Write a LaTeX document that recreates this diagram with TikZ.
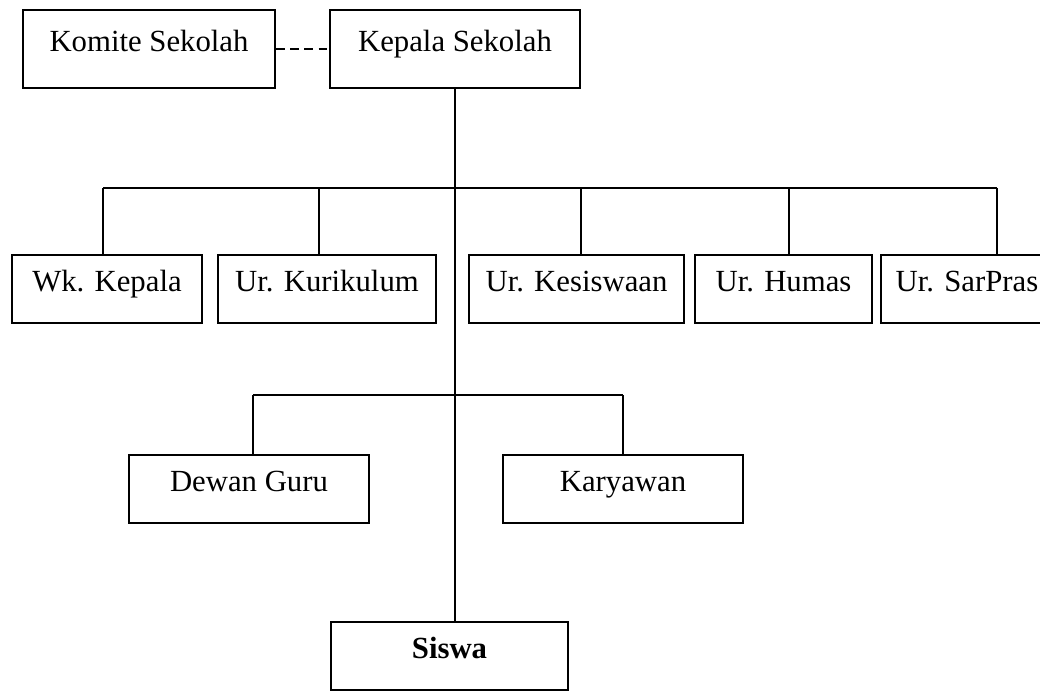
\documentclass[tikz,border=0pt]{standalone}
\usepackage{fontspec}
\setmainfont{Liberation Serif}
\usepackage{tikz}

\begin{document}
\begin{tikzpicture}[x=0.02cm,y=-0.02cm,
  unit/.style={draw, line width=1.6pt, rectangle, inner sep=0pt,
    text height=0.7em, text depth=0.45em, font=\fontsize{17.5}{20}\selectfont},
  link/.style={line width=1.4pt}]
\clip (0,0) rectangle (1040,692);

\node[unit, minimum width=5.04cm, minimum height=1.56cm] (komite) at (149,49) {Komite Sekolah};
\node[unit, minimum width=5.0cm, minimum height=1.56cm] (kepala) at (455,49) {Kepala Sekolah};

\node[unit, minimum width=3.8cm, minimum height=1.36cm] (wk) at (107,289) {Wk. Kepala};
\node[unit, minimum width=4.36cm, minimum height=1.36cm] (kur) at (327,289) {Ur. Kurikulum};
\node[unit, minimum width=4.3cm, minimum height=1.36cm] (kes) at (576.5,289) {Ur. Kesiswaan};
\node[unit, minimum width=3.54cm, minimum height=1.36cm] (hum) at (783.5,289) {Ur. Humas};
\node[unit, minimum width=3.44cm, minimum height=1.36cm] (sar) at (967,289) {Ur. SarPras};

\node[unit, minimum width=4.8cm, minimum height=1.36cm] (dewan) at (249,489) {Dewan Guru};
\node[unit, minimum width=4.8cm, minimum height=1.36cm] (kary) at (623,489) {Karyawan};

\node[unit, minimum width=4.74cm, minimum height=1.36cm] (siswa) at (449.5,656) {\textbf{Siswa}};

\draw[link, dash pattern=on 5pt off 3pt] (komite) -- (kepala);
\draw[link] (kepala.south) -- (kepala.south |- siswa.north);

\coordinate (busL) at (103,188);
\coordinate (busR) at (997,188);
\draw[link] (busL) -- (busR);
\foreach \n/\x in {wk/103, kur/319, kes/581, hum/789, sar/997} {
  \coordinate (d\n) at (\x,188);
  \draw[link] (d\n) -- (d\n |- \n.north);
}

\coordinate (staffL) at (253,395);
\coordinate (staffR) at (623,395);
\draw[link] (staffL) -- (staffR);
\draw[link] (staffL) -- (staffL |- dewan.north);
\draw[link] (staffR) -- (kary.north);
\end{tikzpicture}
\end{document}
